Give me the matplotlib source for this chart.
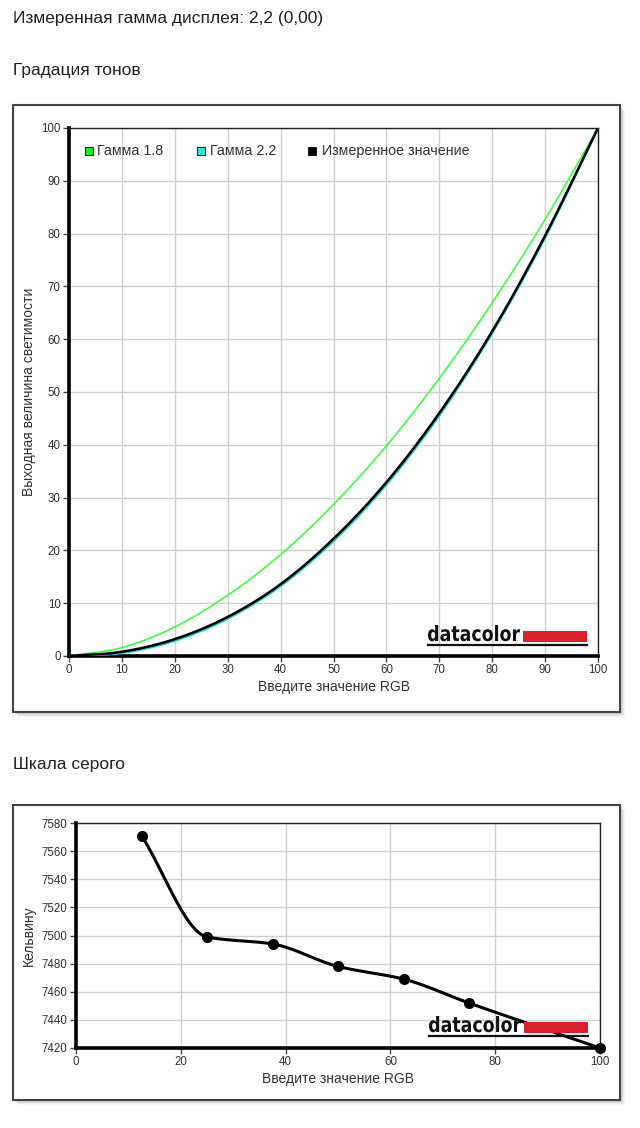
import numpy as np
import matplotlib
matplotlib.use("Agg")
import matplotlib.pyplot as plt
from matplotlib.patches import Rectangle, PathPatch
from matplotlib.lines import Line2D
from matplotlib.textpath import TextPath
from matplotlib.font_manager import FontProperties
from matplotlib.transforms import Affine2D

# ---------------- data ----------------
header_text = "Измеренная гамма дисплея: 2,2 (0,00)"
title1 = "Градация тонов"
title2 = "Шкала серого"

rgb_x = [0, 10, 20, 30, 40, 50, 60, 70, 80, 90, 100]
gamma18 = [0, 1.6, 5.5, 11.5, 19.2, 28.7, 39.8, 52.6, 66.9, 82.7, 100]
gamma22 = [0, 0.6, 2.9, 7.1, 13.3, 21.8, 32.5, 45.6, 61.2, 79.3, 100]
measured = [0, 0.8, 3.2, 7.4, 13.6, 22.2, 32.9, 46.0, 61.5, 79.6, 100]
legend_labels = ["Гамма 1.8", "Гамма 2.2", "Измеренное значение"]
legend_colors = ["#22ee22", "#33e6e6", "#000000"]

grey_x = [12.5, 25, 37.5, 50, 62.5, 75, 100]
grey_k = [7571, 7499, 7494, 7478, 7469, 7452, 7420]

xlabel = "Введите значение RGB"
ylabel1 = "Выходная величина светимости"
ylabel2 = "Кельвину"

W, H = 640, 1128
fig = plt.figure(figsize=(W / 100, H / 100), dpi=100)
fig.patch.set_facecolor("white")
FONT = ["Liberation Sans", "DejaVu Sans"]
plt.rcParams["font.family"] = FONT


def fx(x):
    return x / W


def fy(y):
    return 1 - y / H


def smooth_pchip(xs, ys, n=30):
    """monotone cubic rendering of the polyline"""
    x = np.asarray(xs, float)
    y = np.asarray(ys, float)
    h = np.diff(x)
    d = np.diff(y) / h
    m = np.zeros_like(y)
    for i in range(1, len(y) - 1):
        if d[i - 1] * d[i] <= 0:
            m[i] = 0
        else:
            w1 = 2 * h[i] + h[i - 1]
            w2 = h[i] + 2 * h[i - 1]
            m[i] = (w1 + w2) / (w1 / d[i - 1] + w2 / d[i])
    m[0] = d[0]
    m[-1] = d[-1]
    ox, oy = [], []
    for i in range(len(x) - 1):
        t = np.linspace(0, 1, n, endpoint=False)
        h00 = 2 * t ** 3 - 3 * t ** 2 + 1
        h10 = t ** 3 - 2 * t ** 2 + t
        h01 = -2 * t ** 3 + 3 * t ** 2
        h11 = t ** 3 - t ** 2
        ox.append(x[i] + t * h[i])
        oy.append(h00 * y[i] + h10 * h[i] * m[i] + h01 * y[i + 1] + h11 * h[i] * m[i + 1])
    ox.append([x[-1]])
    oy.append([y[-1]])
    return np.concatenate(ox), np.concatenate(oy)


def smooth_cr(xs, ys, n=30):
    """Catmull-Rom rendering of the polyline"""
    pts = np.column_stack([xs, ys]).astype(float)
    P = np.vstack([2 * pts[0] - pts[1], pts, 2 * pts[-1] - pts[-2]])
    out = []
    for i in range(1, len(P) - 2):
        p0, p1, p2, p3 = P[i - 1], P[i], P[i + 1], P[i + 2]
        t = np.linspace(0, 1, n, endpoint=False)[:, None]
        seg = 0.5 * ((2 * p1) + (-p0 + p2) * t + (2 * p0 - 5 * p1 + 4 * p2 - p3) * t ** 2
                     + (-p0 + 3 * p1 - 3 * p2 + p3) * t ** 3)
        out.append(seg)
    out.append(P[-2][None, :])
    a = np.vstack(out)
    return a[:, 0], np.maximum(a[:, 1], 0)


def box(x0, y0, x1, y1):
    for k, a in enumerate([0.08, 0.10, 0.12, 0.16]):
        off = 5 - k
        fig.patches.append(Rectangle((fx(x0 + off), fy(y1 + off)), fx(x1 - x0), (y1 - y0) / H,
                                     transform=fig.transFigure, facecolor="#808080",
                                     edgecolor="none", alpha=a, zorder=0))
    fig.patches.append(Rectangle((fx(x0), fy(y1)), fx(x1 - x0), (y1 - y0) / H,
                                 transform=fig.transFigure, facecolor="white",
                                 edgecolor="#444444", linewidth=1.5, zorder=1))


PIX = Affine2D().scale(1.0 / W, 1.0 / H) + fig.transFigure
logo_path = TextPath((0, 0), "datacolor", size=20,
                     prop=FontProperties(family="DejaVu Sans", weight="bold"))
lp_ext = logo_path.get_extents()


def logo(x0, ybase):
    sx = 92.0 / lp_ext.width
    sy = 16.0 / lp_ext.ymax
    tr = Affine2D().translate(-lp_ext.xmin, 0).scale(sx, sy).translate(x0, H - ybase) + PIX
    fig.patches.append(PathPatch(logo_path, transform=tr, facecolor="#111111",
                                 edgecolor="none", zorder=10))
    fig.patches.append(Rectangle((fx(x0 + 95), fy(ybase + 1)), fx(64), 11 / H,
                                 transform=fig.transFigure, facecolor="#d9202c",
                                 edgecolor="none", zorder=10))
    fig.lines.append(Line2D([fx(x0), fx(x0 + 159)], [fy(ybase + 3.5), fy(ybase + 3.5)],
                            transform=fig.transFigure, color="#111111", linewidth=1.6, zorder=10))


def style_axes(ax):
    ax.set_facecolor("white")
    ax.grid(True, color="#d0d0d0", linewidth=1)
    ax.set_axisbelow(True)
    for s in ["top", "right"]:
        ax.spines[s].set_linewidth(1.0)
        ax.spines[s].set_color("#222222")
    for s in ["left", "bottom"]:
        ax.spines[s].set_linewidth(2.6)
        ax.spines[s].set_color("#000000")
    ax.tick_params(axis="both", direction="out", length=4, width=1, color="#444444",
                   labelsize=8.3, labelcolor="#333333", pad=2)


# headers
fig.text(fx(13), fy(18), header_text, fontsize=12.5, color="#222222", va="center", ha="left")
fig.text(fx(13), fy(70), title1, fontsize=12.5, color="#222222", va="center", ha="left")
fig.text(fx(13), fy(765), title2, fontsize=12.5, color="#222222", va="center", ha="left")

# ---------------- chart 1 ----------------
box(13, 105, 620, 712)
ax1 = fig.add_axes([fx(69), fy(656), fx(529), 528 / H], zorder=5)
style_axes(ax1)
xs, ys = smooth_cr(rgb_x, gamma18)
ax1.plot(xs, ys, color="#33ff33", linewidth=1.1, zorder=3)
xs, ys = smooth_cr(rgb_x, gamma22)
ax1.plot(xs, ys, color="#22cccc", linewidth=1.8, zorder=3)
xs, ys = smooth_cr(rgb_x, measured)
ax1.plot(xs, ys, color="#000000", linewidth=1.8, zorder=4)
ax1.set_xlim(0, 100)
ax1.set_ylim(0, 100)
ax1.set_xticks(range(0, 101, 10))
ax1.set_yticks(range(0, 101, 10))
ax1.set_xlabel(xlabel, fontsize=10, color="#333333", labelpad=3)
ax1.set_ylabel(ylabel1, fontsize=10, color="#333333", labelpad=4)

# legend (manual)
sq_pos = [85, 197, 308]
txt_pos = [97, 210, 322]
for xp, xt, lab, col in zip(sq_pos, txt_pos, legend_labels, legend_colors):
    fig.patches.append(Rectangle((fx(xp), fy(155)), fx(8), 8 / H, transform=fig.transFigure,
                                 facecolor=col, edgecolor="#222222", linewidth=0.8, zorder=10))
    fig.text(fx(xt), fy(151), lab, fontsize=10.3, color="#333333", va="center",
             ha="left", zorder=10)

logo(428, 641)

# ---------------- chart 2 ----------------
box(13, 805, 620, 1100)
ax2 = fig.add_axes([fx(76), fy(1048), fx(524), 225 / H], zorder=5)
style_axes(ax2)
xs, ys = smooth_pchip(grey_x, grey_k)
ax2.plot(xs, ys, color="#000000", linewidth=2.2, zorder=3)
ax2.plot(grey_x, grey_k, "o", color="#000000", markersize=7, zorder=4, clip_on=False)
ax2.set_xlim(0, 100)
ax2.set_ylim(7420, 7580)
ax2.set_xticks(range(0, 101, 20))
ax2.set_yticks(range(7420, 7581, 20))
ax2.set_xlabel(xlabel, fontsize=10, color="#333333", labelpad=3)
ax2.set_ylabel(ylabel2, fontsize=10, color="#333333", labelpad=4)

logo(429, 1032)

fig.savefig("out.png", dpi=100, facecolor="white")
